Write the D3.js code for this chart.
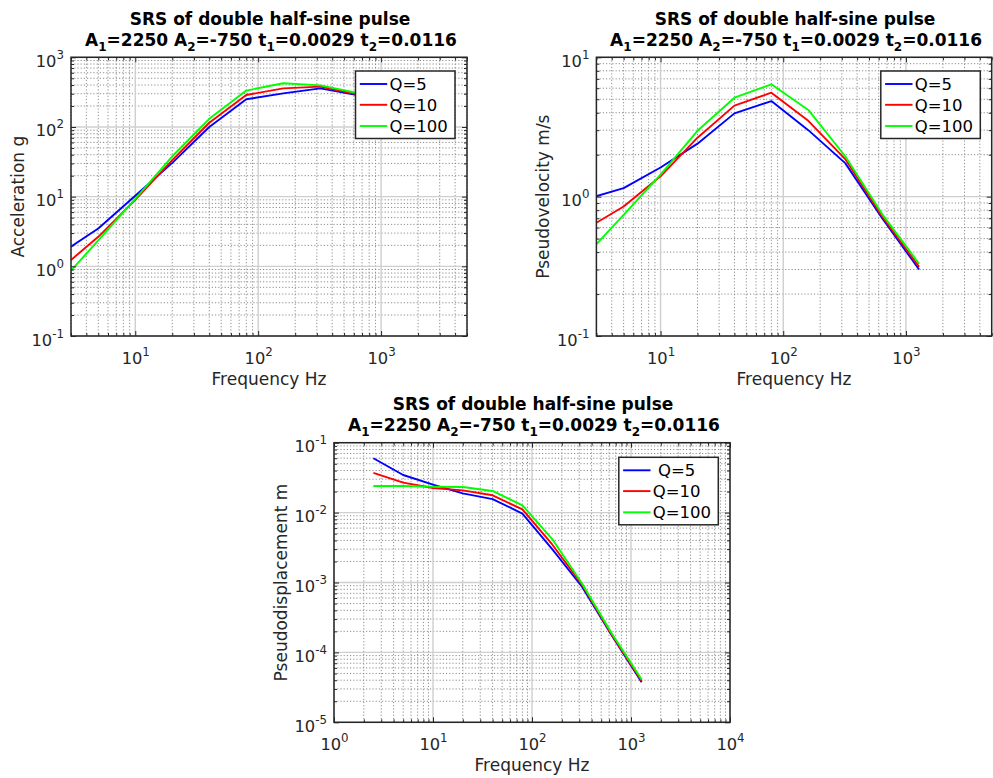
<!DOCTYPE html>
<html><head><meta charset="utf-8">
<script src="https://cdn.jsdelivr.net/npm/d3@7"></script>
<style>
body{margin:0;background:#fff;}
svg{font-family:"DejaVu Sans",sans-serif;}
</style></head><body>
<svg id="c" width="993" height="778"></svg>
<script>
// ---------- data ----------
const freq = [2.5, 5, 10, 20, 40, 80, 160, 320, 640, 1280];
const seriesNames = ["Q=5", "Q=10", "Q=100"];
const bottomLegendNames = [" Q=5", "Q=10", "Q=100"];
const seriesColors = ["#0000ff", "#ff0000", "#00ff00"];

const accelQ5   = [1.55, 3.5, 10.3, 30.5, 100, 250, 304, 358, 287, 246];
const accelQ10  = [0.94, 2.65, 9.0, 33.5, 115, 288, 358, 380, 295, 258];
const accelQ100 = [0.61, 2.35, 9.3, 38, 131, 333, 424, 396, 307, 272];

const pvQ5   = [0.96, 1.15, 1.62, 2.40, 3.96, 4.85, 3.00, 1.74, 0.70, 0.300];
const pvQ10  = [0.59, 0.85, 1.40, 2.65, 4.50, 5.57, 3.50, 1.86, 0.72, 0.314];
const pvQ100 = [0.383, 0.74, 1.44, 2.97, 5.13, 6.40, 4.19, 1.95, 0.75, 0.330];

const pdQ5   = [0.0600, 0.0345, 0.0252, 0.0188, 0.0156, 0.0097, 0.00300, 0.00087, 0.000174, 0.0000375];
const pdQ10  = [0.0370, 0.0268, 0.0225, 0.0208, 0.0177, 0.0111, 0.00350, 0.00093, 0.000179, 0.0000390];
const pdQ100 = [0.0240, 0.0240, 0.0234, 0.0232, 0.0204, 0.0127, 0.00418, 0.00097, 0.000187, 0.0000410];

const titleLine1 = "SRS of double half-sine pulse";
const titleLine2 = [["A","1","=2250 "],["A","2","=-750 "],["t","1","=0.0029 "],["t","2","=0.0116"]];
const xLabel = "Frequency Hz";
const yLabels = ["Acceleration g", "Pseudovelocity m/s", "Pseudodisplacement m"];

// ---------- drawing ----------
const svg = d3.select("#c");
const AX = "#262626";

function minorTicks(lo, hi) {
  const out = [];
  for (let e = Math.floor(Math.log10(lo)); e <= Math.ceil(Math.log10(hi)); e++) {
    for (let m = 2; m <= 9; m++) {
      const v = m * Math.pow(10, e);
      if (v >= lo * 0.9999 && v <= hi * 1.0001) out.push(v);
    }
  }
  return out;
}
function majorTicks(lo, hi) {
  const out = [];
  for (let e = Math.ceil(Math.log10(lo) - 1e-9); e <= Math.floor(Math.log10(hi) + 1e-9); e++) out.push(Math.pow(10, e));
  return out;
}
function powLabel(sel, asX) {
  sel.selectAll(".tick text").each(function(d) {
    const t = d3.select(this);
    t.text(null).attr("dy", null).attr("fill", AX).attr("font-size", 16.3)
     .attr("font-family", "DejaVu Sans");
    const e = Math.round(Math.log10(d));
    if (asX) { t.attr("y", 28).attr("text-anchor", "middle"); }
    else { t.attr("x", -7).attr("y", 9).attr("text-anchor", "end"); }
    t.append("tspan").text("10");
    t.append("tspan").attr("dy", -8).attr("font-size", 11.8).text(e);
  });
}

let clipId = 0;
function drawChart(cfg) {
  const {left, top, width, height, xDom, yDom, data, yLabel, legend} = cfg;
  const g = svg.append("g").attr("transform", `translate(${left},${top})`);
  const x = d3.scaleLog().domain(xDom).range([0, width]);
  const y = d3.scaleLog().domain(yDom).range([height, 0]);
  const xMaj = majorTicks(...xDom), yMaj = majorTicks(...yDom);
  const xMin = minorTicks(...xDom), yMin = minorTicks(...yDom);

  // grids
  const grid = g.append("g");
  grid.selectAll(".gxm").data(xMin).join("line")
    .attr("x1", d => x(d)).attr("x2", d => x(d)).attr("y1", 0).attr("y2", height)
    .attr("stroke", "#8c8c8c").attr("stroke-width", 1).attr("stroke-dasharray", "1.2,2");
  grid.selectAll(".gym").data(yMin).join("line")
    .attr("y1", d => y(d)).attr("y2", d => y(d)).attr("x1", 0).attr("x2", width)
    .attr("stroke", "#8c8c8c").attr("stroke-width", 1).attr("stroke-dasharray", "1.2,2");
  grid.selectAll(".gxM").data(xMaj).join("line")
    .attr("x1", d => x(d)).attr("x2", d => x(d)).attr("y1", 0).attr("y2", height)
    .attr("stroke", "#cfcfcf").attr("stroke-width", 1.4);
  grid.selectAll(".gyM").data(yMaj).join("line")
    .attr("y1", d => y(d)).attr("y2", d => y(d)).attr("x1", 0).attr("x2", width)
    .attr("stroke", "#cfcfcf").attr("stroke-width", 1.4);

  // lines
  const cid = "clip" + (clipId++);
  g.append("clipPath").attr("id", cid).append("rect").attr("width", width).attr("height", height);
  const line = d3.line().x((d, i) => x(freq[i])).y(d => y(d));
  g.append("g").attr("clip-path", `url(#${cid})`).selectAll("path").data(data).join("path")
    .attr("d", d => line(d)).attr("fill", "none")
    .attr("stroke", (d, i) => seriesColors[i]).attr("stroke-width", 1.9)
    .attr("stroke-linejoin", "round");

  // axes (ticks inward, on all sides)
  const mk = (axis, sc, vals, size, fmt) => axis(sc).tickValues(vals).tickSize(size).tickSizeOuter(0).tickFormat(fmt);
  const none = () => "";
  const addAx = (tr, ax) => { const a = g.append("g").attr("transform", tr).call(ax); a.select(".domain").remove(); a.selectAll("line").attr("stroke", AX); return a; };
  const xb = addAx(`translate(0,${height})`, mk(d3.axisBottom, x, xMaj, -5, d => d));
  powLabel(xb, true);
  addAx(`translate(0,${height})`, mk(d3.axisBottom, x, xMin, -3, none));
  addAx(`translate(0,0)`, mk(d3.axisTop, x, xMaj, -5, none));
  addAx(`translate(0,0)`, mk(d3.axisTop, x, xMin, -3, none));
  const yl = addAx(`translate(0,0)`, mk(d3.axisLeft, y, yMaj, -5, d => d));
  powLabel(yl, false);
  addAx(`translate(0,0)`, mk(d3.axisLeft, y, yMin, -3, none));
  addAx(`translate(${width},0)`, mk(d3.axisRight, y, yMaj, -5, none));
  addAx(`translate(${width},0)`, mk(d3.axisRight, y, yMin, -3, none));

  g.append("rect").attr("width", width).attr("height", height).attr("fill", "none")
    .attr("stroke", AX).attr("stroke-width", 1.5);

  // labels
  g.append("text").attr("x", width / 2).attr("y", height + 49).attr("text-anchor", "middle")
    .attr("font-size", 17).attr("fill", AX).text(xLabel);
  g.append("text").attr("transform", `translate(-47,${height / 2}) rotate(-90)`)
    .attr("text-anchor", "middle").attr("font-size", 17).attr("fill", AX).text(yLabel);

  // title
  g.append("text").attr("x", width / 2 + 1).attr("y", -32.3).attr("text-anchor", "middle")
    .attr("font-size", 17).attr("font-weight", "bold").attr("fill", "#000").text(titleLine1);
  const t2 = g.append("text").attr("x", width / 2 + 2).attr("y", -11.6).attr("text-anchor", "middle")
    .attr("font-size", 17).attr("font-weight", "bold").attr("fill", "#000");
  titleLine2.forEach(p => {
    t2.append("tspan").attr("dy", 0).text(p[0]);
    t2.append("tspan").attr("dy", 5).attr("font-size", 12).text(p[1]);
    t2.append("tspan").attr("dy", -5).style("white-space", "pre").text(p[2]);
  });

  // legend
  const lg = g.append("g").attr("transform", `translate(${width - legend.dx - 99.5},${legend.dy})`);
  lg.append("rect").attr("width", 99.5).attr("height", 67.5).attr("fill", "#fff")
    .attr("stroke", AX).attr("stroke-width", 1.5);
  const rows = [13, 33.8, 55];
  legend.names.forEach((nm, i) => {
    lg.append("line").attr("x1", 4.3).attr("x2", 31.7).attr("y1", rows[i]).attr("y2", rows[i])
      .attr("stroke", seriesColors[i]).attr("stroke-width", 1.9);
    lg.append("text").attr("x", 34).attr("y", rows[i]).attr("dy", "0.36em")
      .attr("font-size", 16.5).attr("fill", "#000").style("white-space", "pre").text(nm);
  });
}

drawChart({left: 71, top: 57.3, width: 396, height: 278.7, xDom: [3, 5000], yDom: [0.1, 1000],
  data: [accelQ5, accelQ10, accelQ100], yLabel: yLabels[0], legend: {dx: 12, dy: 13.7, names: seriesNames}});
drawChart({left: 596.4, top: 57.3, width: 395.3, height: 278.7, xDom: [3, 5000], yDom: [0.1, 10],
  data: [pvQ5, pvQ10, pvQ100], yLabel: yLabels[1], legend: {dx: 11.4, dy: 13.7, names: seriesNames}});
drawChart({left: 334, top: 442.7, width: 396, height: 279.6, xDom: [1, 10000], yDom: [1e-5, 0.1],
  data: [pdQ5, pdQ10, pdQ100], yLabel: yLabels[2], legend: {dx: 11.7, dy: 14.6, names: bottomLegendNames}});
</script>
</body></html>
